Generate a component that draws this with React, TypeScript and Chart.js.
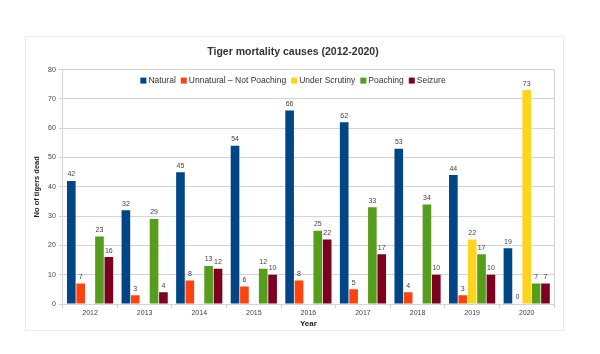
import React, { useEffect, useRef } from "react";
import { Chart, registerables } from "chart.js";

Chart.register(...registerables);

const years = ["2012", "2013", "2014", "2015", "2016", "2017", "2018", "2019", "2020"];
const natural = [42, 32, 45, 54, 66, 62, 53, 44, 19];
const unnatural = [7, 3, 8, 6, 8, 5, 4, 3, 0];
const underScrutiny = [null, null, null, null, null, null, null, 22, 73];
const poaching = [23, 29, 13, 12, 25, 33, 34, 17, 7];
const seizure = [16, 4, 12, 10, 22, 17, 10, 10, 7];
const seriesNames = ["Natural", "Unnatural – Not Poaching", "Under Scrutiny", "Poaching", "Seizure"];
const colors = ["#004586", "#ff420e", "#ffd320", "#579d1c", "#7e0021"];

const FONT = "'Liberation Sans', Arial, sans-serif";

const decorPlugin = {
  id: "decor",
  beforeDraw(chart: any) {
    const { ctx } = chart;
    ctx.save();
    ctx.fillStyle = "#ffffff";
    ctx.fillRect(0, 0, chart.width, chart.height);
    ctx.strokeStyle = "#ececec";
    ctx.lineWidth = 1;
    ctx.strokeRect(25.5, 36.5, 538, 294);
    ctx.restore();
  },
  beforeDatasetsDraw(chart: any) {
    const { ctx, chartArea } = chart;
    ctx.save();
    ctx.strokeStyle = "#d4d4d4";
    ctx.lineWidth = 1;
    const r = Math.round(chartArea.right) + 0.5;
    ctx.beginPath();
    ctx.moveTo(r, chartArea.top);
    ctx.lineTo(r, chartArea.bottom);
    ctx.stroke();
    ctx.restore();
  },
  afterDatasetsDraw(chart: any) {
    const { ctx, chartArea } = chart;
    ctx.save();
    ctx.font = `7px ${FONT}`;
    ctx.fillStyle = "#444";
    ctx.textAlign = "center";
    ctx.textBaseline = "bottom";
    chart.data.datasets.forEach((ds: any, di: number) => {
      const meta = chart.getDatasetMeta(di);
      meta.data.forEach((el: any, i: number) => {
        const v = ds.data[i];
        if (v === null || v === undefined) return;
        ctx.fillText(String(v), el.x, el.y - 3);
      });
    });
    ctx.font = `8.5px ${FONT}`;
    ctx.textBaseline = "middle";
    ctx.textAlign = "left";
    const box = 6;
    const gap = 2;
    const itemGap = 5;
    let total = 0;
    const widths = seriesNames.map((n) => ctx.measureText(n).width);
    widths.forEach((w, i) => {
      total += box + gap + w + (i < widths.length - 1 ? itemGap : 0);
    });
    let x = 293 - total / 2;
    const y = chartArea.top + 11;
    seriesNames.forEach((n, i) => {
      ctx.fillStyle = colors[i];
      ctx.fillRect(x, y - box / 2, box, box);
      x += box + gap;
      ctx.fillStyle = "#333";
      ctx.fillText(n, x, y);
      x += widths[i] + itemGap;
    });
    ctx.restore();
  },
};

export default function App() {
  const ref = useRef<HTMLCanvasElement>(null);
  useEffect(() => {
    if (!ref.current) return;
    const datasets = [natural, unnatural, underScrutiny, poaching, seizure].map((d, i) => ({
      label: seriesNames[i],
      data: d,
      backgroundColor: colors[i],
      borderWidth: 0,
      categoryPercentage: 0.86,
      barPercentage: 0.92,
    }));
    const chart = new Chart(ref.current, {
      type: "bar",
      data: { labels: years, datasets: datasets as any },
      plugins: [decorPlugin],
      options: {
        animation: false,
        responsive: false,
        maintainAspectRatio: false,
        layout: { padding: { top: 46, left: 32, right: 46, bottom: 25 } },
        plugins: {
          legend: { display: false },
          tooltip: { enabled: false },
          title: {
            display: true,
            text: "Tiger mortality causes (2012-2020)",
            color: "#333",
            font: { family: FONT, size: 10.5, weight: "bold" },
            padding: { top: 0, bottom: 11 },
          },
        },
        scales: {
          x: {
            offset: true,
            grid: {
              display: true,
              offset: true,
              drawOnChartArea: false,
              drawTicks: true,
              tickLength: 4,
              color: "#d4d4d4",
            },
            border: { color: "#d4d4d4" },
            ticks: { color: "#444", font: { family: FONT, size: 7 }, padding: 1, maxRotation: 0 },
            title: {
              display: true,
              text: "Year",
              color: "#222",
              font: { family: FONT, size: 8, weight: "bold" },
              padding: { top: 1, bottom: 0 },
            },
          },
          y: {
            min: 0,
            max: 80,
            ticks: { stepSize: 10, color: "#444", font: { family: FONT, size: 7 }, padding: 3 },
            grid: { color: "#d4d4d4", tickLength: 4 },
            border: { color: "#d4d4d4" },
            title: {
              display: true,
              text: "No of tigers dead",
              color: "#222",
              font: { family: FONT, size: 7.5, weight: "bold" },
              padding: { top: 0, bottom: 4 },
            },
          },
        },
      },
    });
    return () => chart.destroy();
  }, []);
  return (
    <div style={{ position: "fixed", left: 0, top: 0, width: 600, height: 354, background: "#fff" }}>
      <canvas ref={ref} width={600} height={354} style={{ display: "block", width: 600, height: 354 }} />
    </div>
  );
}
